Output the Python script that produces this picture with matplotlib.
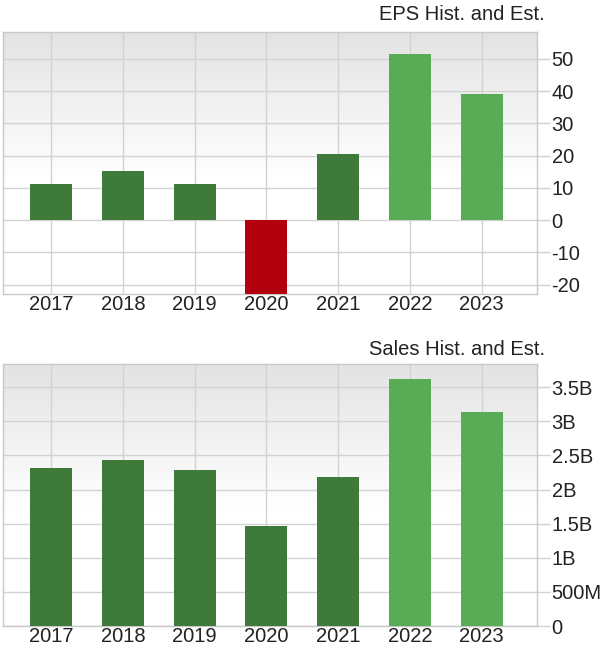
import matplotlib.pyplot as plt
import numpy as np
from matplotlib.colors import LinearSegmentedColormap
from matplotlib.ticker import FuncFormatter

plt.rcParams['font.family'] = ['Liberation Sans', 'DejaVu Sans']
plt.rcParams['axes.unicode_minus'] = False

years = ['2017', '2018', '2019', '2020', '2021', '2022', '2023']
eps = [11.2, 15.1, 11.1, -27.0, 20.5, 51.6, 39.2]
sales = [2.31e9, 2.43e9, 2.28e9, 1.46e9, 2.19e9, 3.62e9, 3.14e9]
estimate = [False, False, False, False, False, True, True]

eps_ticks = [-20, -10, 0, 10, 20, 30, 40, 50]
sales_ticks = [0, 0.5e9, 1e9, 1.5e9, 2e9, 2.5e9, 3e9, 3.5e9]

DARK = '#3e7b3a'
LIGHT = '#5aab55'
RED = '#b3000e'
GRID = '#d2d2d2'
FRAME = '#c8c8c8'
TXT = '#222222'


def bar_colors(vals):
    out = []
    for v, est in zip(vals, estimate):
        if v < 0:
            out.append(RED)
        elif est:
            out.append(LIGHT)
        else:
            out.append(DARK)
    return out


def money(v, pos):
    if v >= 1e9:
        return f'{v / 1e9:g}B'
    if v >= 1e6:
        return f'{v / 1e6:g}M'
    return '0'


bg = LinearSegmentedColormap.from_list('bg', [(0, '#ffffff'), (0.45, '#ffffff'), (1, '#e3e3e3')])


def panel(ax, vals, ticks, ylim, title, title_y):
    x = np.arange(len(years))
    grad = np.linspace(0, 1, 256).reshape(-1, 1)
    ax.imshow(grad, cmap=bg, aspect='auto', extent=[0, 1, 0, 1],
              transform=ax.transAxes, origin='lower', zorder=0)
    ax.bar(x, vals, width=0.585, color=bar_colors(vals), zorder=3)
    ax.set_xlim(-0.67, 6.77)
    ax.set_ylim(*ylim)
    ax.set_xticks(x)
    ax.set_xticklabels(years)
    ax.set_yticks(ticks)
    ax.yaxis.tick_right()
    ax.grid(True, color=GRID, lw=1, zorder=1)
    ax.set_axisbelow(True)
    ax.tick_params(axis='x', length=0, pad=1, labelsize=14.5, labelcolor=TXT)
    ax.tick_params(axis='y', length=9, width=1, color=GRID, pad=1.5,
                   labelsize=14.5, labelcolor=TXT)
    for s in ax.spines.values():
        s.set_color(FRAME)
        s.set_linewidth(1)
    fig.text(545 / 614, 1 - title_y / 651, title, ha='right', va='center',
             fontsize=14.5, color=TXT)


fig = plt.figure(figsize=(6.14, 6.51), dpi=100)
ax1 = fig.add_axes([3 / 614, 1 - 294 / 651, 534 / 614, 262 / 651])
ax2 = fig.add_axes([3 / 614, 1 - 626 / 651, 534 / 614, 262 / 651])

panel(ax1, eps, eps_ticks, (-22.9, 58.3), 'EPS Hist. and Est.', 15)
panel(ax2, sales, sales_ticks, (0, 3.84e9), 'Sales Hist. and Est.', 349)
ax2.yaxis.set_major_formatter(FuncFormatter(money))

fig.savefig('out.png', dpi=100)
